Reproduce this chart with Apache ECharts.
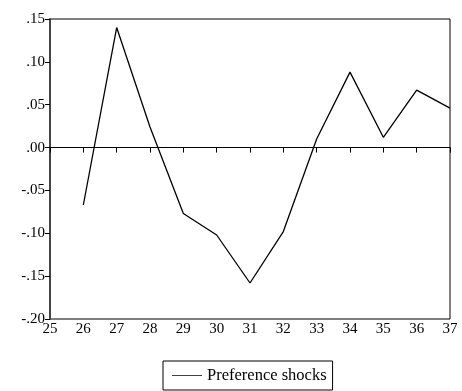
<!DOCTYPE html>
<html>
<head>
<meta charset="utf-8">
<script src="https://cdn.jsdelivr.net/npm/echarts@6/dist/echarts.min.js"></script>
<style>
html, body { margin: 0; padding: 0; background: #fff; }
#main { width: 462px; height: 391px; }
</style>
</head>
<body>
<div id="main"></div>
<script>
// periods and shock values
var periods = [26, 27, 28, 29, 30, 31, 32, 33, 34, 35, 36, 37];
var prefShocks = [-0.067, 0.140, 0.024, -0.077, -0.102, -0.158, -0.098, 0.010, 0.088, 0.012, 0.067, 0.046];
var seriesName = 'Preference shocks';

var pts = [];
for (var i = 0; i < periods.length; i++) {
    pts.push([periods[i], prefShocks[i]]);
}

function fmtY(v) {
    var s = Math.abs(v).toFixed(2).replace(/^0/, '');
    return (v < -1e-9 ? '-' : '') + s;
}

var myChart = echarts.init(document.getElementById('main'));
var option = {
    animation: false,
    textStyle: { fontFamily: 'Liberation Serif' },
    grid: {
        left: 50,
        right: 12,
        top: 19,
        bottom: 72,
        show: true,
        borderColor: '#000',
        borderWidth: 1
    },
    xAxis: {
        type: 'value',
        min: 25,
        max: 37,
        interval: 1,
        splitLine: { show: false },
        axisLine: { lineStyle: { color: '#000', width: 1 } },
        axisTick: { show: true, inside: false, length: 5, lineStyle: { color: '#000' } },
        axisLabel: { color: '#000', fontSize: 15, margin: 3, fontFamily: 'Liberation Serif' }
    },
    yAxis: {
        type: 'value',
        min: -0.2,
        max: 0.15,
        interval: 0.05,
        splitLine: { show: false },
        axisLine: { lineStyle: { color: '#444', width: 2 } },
        axisTick: { show: true, inside: false, length: 5, lineStyle: { color: '#000' } },
        axisLabel: { color: '#000', fontSize: 15, margin: 5, formatter: fmtY, fontFamily: 'Liberation Serif' }
    },
    legend: {
        data: [seriesName],
        bottom: 1,
        left: 163,
        borderColor: '#000',
        borderWidth: 1,
        padding: [6, 6, 6, 9],
        icon: 'path://M0 0H40V1H0Z',
        itemWidth: 30,
        itemHeight: 1,
        itemGap: 6,
        textStyle: { color: '#000', fontSize: 16.5, fontFamily: 'Liberation Serif', padding: [0, 0, 0, 0] }
    },
    series: [
        {
            name: seriesName,
            type: 'line',
            data: pts,
            showSymbol: false,
            symbol: 'none',
            lineStyle: { color: '#000', width: 1.3 },
            itemStyle: { color: '#000' },
            markLine: {
                silent: true,
                symbol: 'none',
                label: { show: false },
                lineStyle: { color: '#000', width: 1, type: 'solid' },
                data: [{ yAxis: 0 }]
            }
        }
    ]
};
myChart.setOption(option);
</script>
</body>
</html>
